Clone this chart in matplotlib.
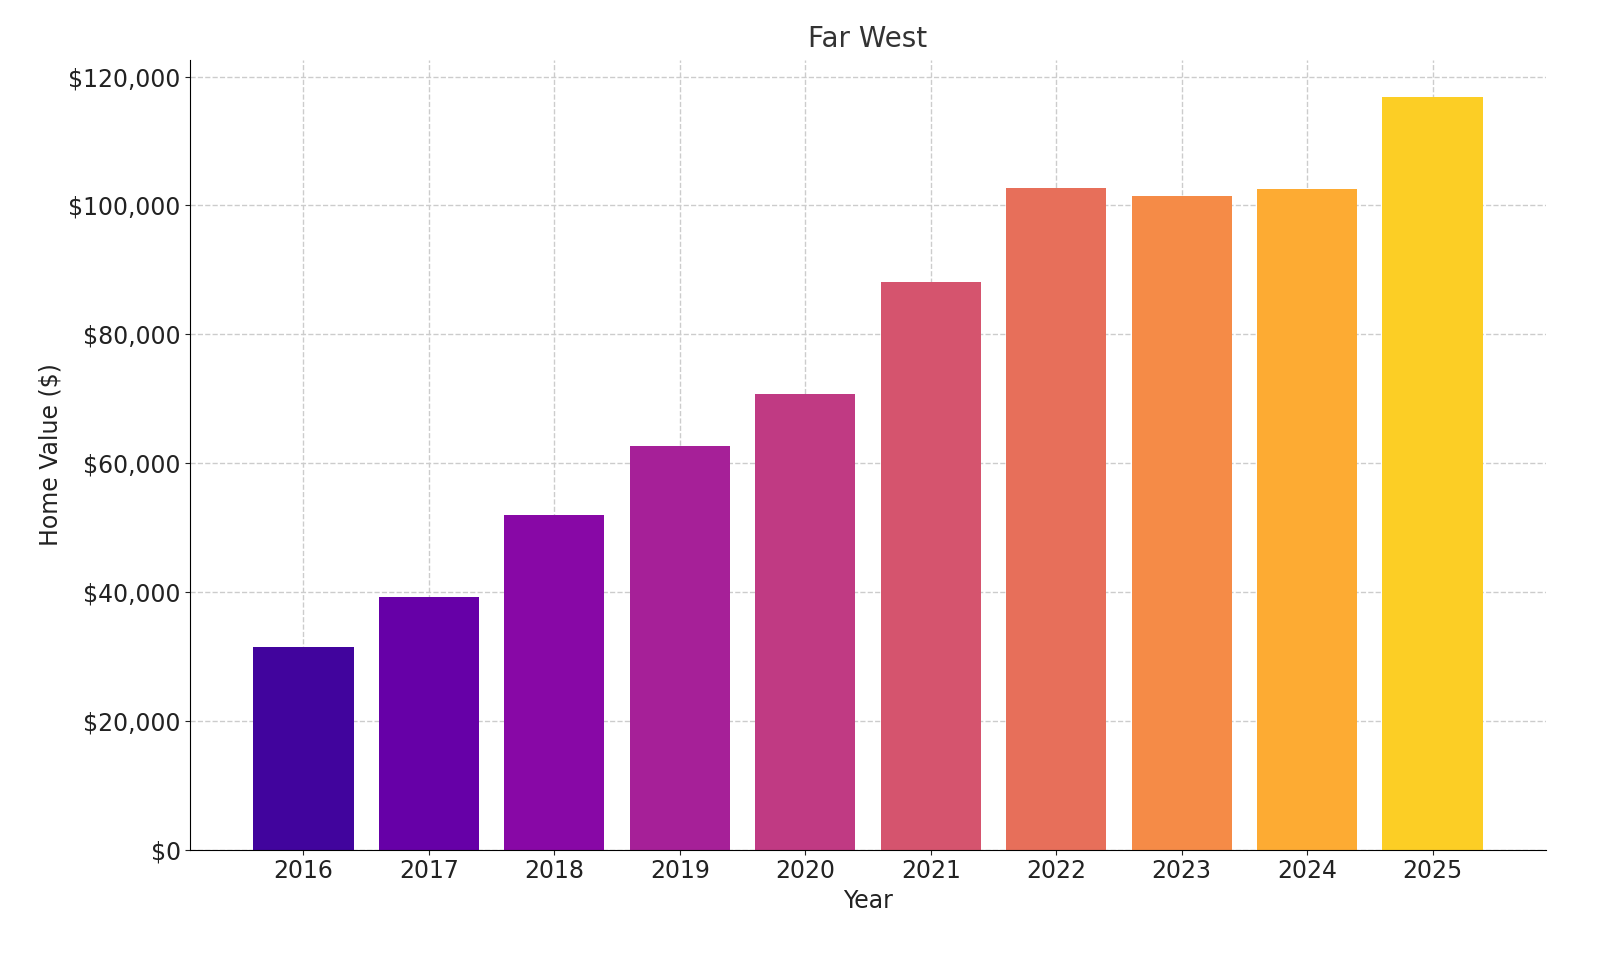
import numpy as np
import matplotlib.pyplot as plt
from matplotlib.ticker import FuncFormatter

years = ["2016", "2017", "2018", "2019", "2020", "2021", "2022", "2023", "2024", "2025"]
home_values = [31400, 39200, 51900, 62700, 70800, 88100, 102700, 101500, 102500, 116800]

colors = plt.cm.plasma(np.linspace(0.1, 0.9, len(years)))

fig = plt.figure(figsize=(16, 9.6), dpi=100)
ax = fig.add_axes([0.119, 0.115, 0.847, 0.822])

x = np.arange(len(years))
ax.bar(x, home_values, color=colors, width=0.8, zorder=2)

ax.set_xticks(x)
ax.set_xticklabels(years)
ax.set_xlim(-0.9, 9.9)
ax.set_ylim(0, 122500)
ax.set_yticks(np.arange(0, 120001, 20000))
ax.yaxis.set_major_formatter(FuncFormatter(lambda v, p: f"${v:,.0f}"))

ax.grid(True, linestyle="--", color="#cccccc", linewidth=1, zorder=0)
ax.spines["top"].set_visible(False)
ax.spines["right"].set_visible(False)
ax.tick_params(labelsize=17, colors="#222222")

ax.set_title("Far West", fontsize=20, color="#333333", pad=10)
ax.set_xlabel("Year", fontsize=17, color="#222222")
ax.set_ylabel("Home Value ($)", fontsize=17, color="#222222")

fig.savefig("out.png", dpi=100)
